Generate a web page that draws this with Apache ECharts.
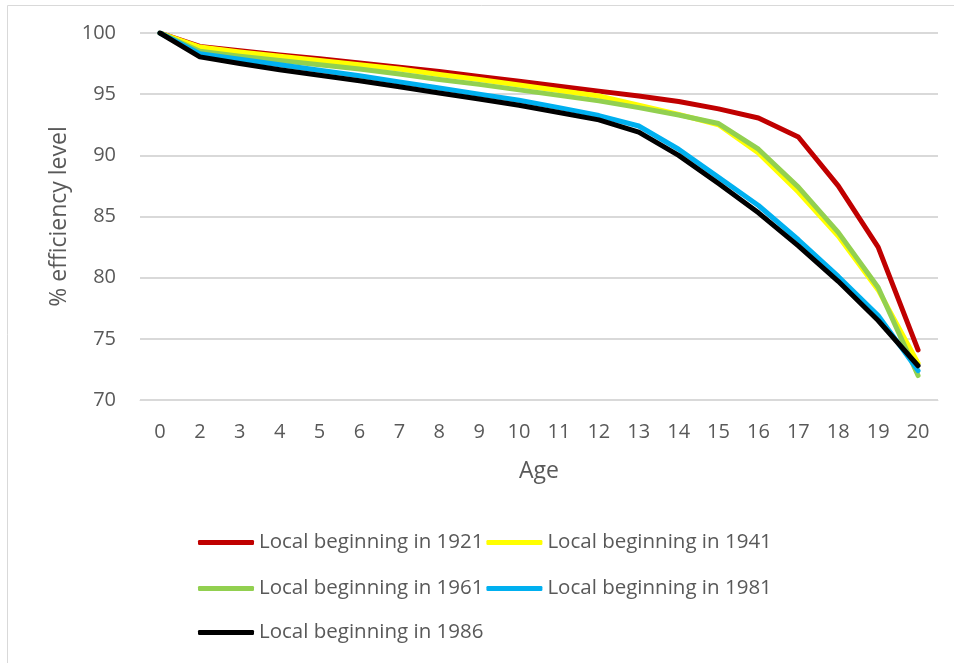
<!DOCTYPE html>
<html>
<head>
<meta charset="utf-8">
<script src="https://cdn.jsdelivr.net/npm/echarts@6/dist/echarts.min.js"></script>
<style>html,body{margin:0;padding:0;background:#fff;}#c{width:954px;height:663px;}</style>
</head>
<body>
<div id="c"></div>
<script>
const ages = ['0','2','3','4','5','6','7','8','9','10','11','12','13','14','15','16','17','18','19','20'];
const yTicks = [70, 75, 80, 85, 90, 95, 100];
const names = ['Local beginning in 1921','Local beginning in 1941','Local beginning in 1961','Local beginning in 1981','Local beginning in 1986'];
const s1921 = [100,98.9,98.55,98.2,97.9,97.55,97.2,96.85,96.45,96.05,95.65,95.25,94.85,94.4,93.8,93.05,91.5,87.5,82.5,74.1];
const s1941 = [100,98.85,98.45,98.1,97.75,97.4,97.05,96.6,96.2,95.75,95.3,94.85,94.1,93.35,92.5,90.2,87.0,83.4,79.0,73.0];
const s1961 = [100,98.5,98.1,97.75,97.4,97.05,96.65,96.2,95.8,95.35,94.9,94.45,93.9,93.3,92.6,90.5,87.4,83.7,79.2,72.0];
const s1981 = [100,98.3,97.85,97.4,96.95,96.5,96.0,95.5,95.0,94.5,93.9,93.25,92.4,90.5,88.2,85.9,83.1,80.1,76.9,72.4];
const s1986 = [100,98.05,97.5,97.0,96.55,96.1,95.6,95.1,94.6,94.1,93.5,92.9,91.9,90.0,87.7,85.3,82.6,79.7,76.5,72.8];
const colors = ['#c00000','#ffff00','#92d050','#00b0f0','#000000'];
const seriesData = [s1921, s1941, s1961, s1981, s1986];

const font = '"Open Sans", sans-serif';
const txt = '#595959';
const chart = echarts.init(document.getElementById('c'));
const legendBase = {
  icon: 'roundRect', itemWidth: 56, itemHeight: 5, itemGap: 3, padding: 0,
  textStyle: {fontFamily: font, fontSize: 20.5, color: txt}
};
chart.setOption({
  animation: false,
  color: colors,
  graphic: [{type:'rect', shape:{x:7.5, y:5.5, width:1000, height:1000}, style:{fill:'none', stroke:'#d9d9d9', lineWidth:1}}],
  grid: {left: 140, right: 16, top: 33, bottom: 263},
  legend: [
    Object.assign({}, legendBase, {left: 198, top: 532, data: [names[0], names[1]]}),
    Object.assign({}, legendBase, {left: 198, top: 578, data: [names[2], names[3]]}),
    Object.assign({}, legendBase, {left: 198, top: 622, data: [names[4]]})
  ],
  xAxis: {
    type: 'category', data: ages, boundaryGap: true,
    name: 'Age', nameLocation: 'middle', nameGap: 60,
    nameTextStyle: {fontFamily: font, fontSize: 23, color: txt},
    axisLine: {show: true, lineStyle: {color: '#d9d9d9', width: 1}},
    axisTick: {show: false},
    axisLabel: {fontFamily: font, fontSize: 20, color: txt, margin: 22, interval: 0}
  },
  yAxis: {
    type: 'value', min: yTicks[0], max: yTicks[yTicks.length-1], interval: 5,
    name: '% efficiency level', nameLocation: 'middle', nameGap: 69,
    nameTextStyle: {fontFamily: font, fontSize: 23, color: txt},
    axisLine: {show: false}, axisTick: {show: false},
    axisLabel: {fontFamily: font, fontSize: 20, color: txt, margin: 24},
    splitLine: {lineStyle: {color: '#d9d9d9', width: 2}}
  },
  series: names.map((n, i) => ({
    name: n, type: 'line', data: seriesData[i], symbol: 'none',
    lineStyle: {width: 5, color: colors[i], cap: 'round', join: 'round'},
    itemStyle: {color: colors[i]}, z: 2 + i
  }))
});
</script>
</body>
</html>
